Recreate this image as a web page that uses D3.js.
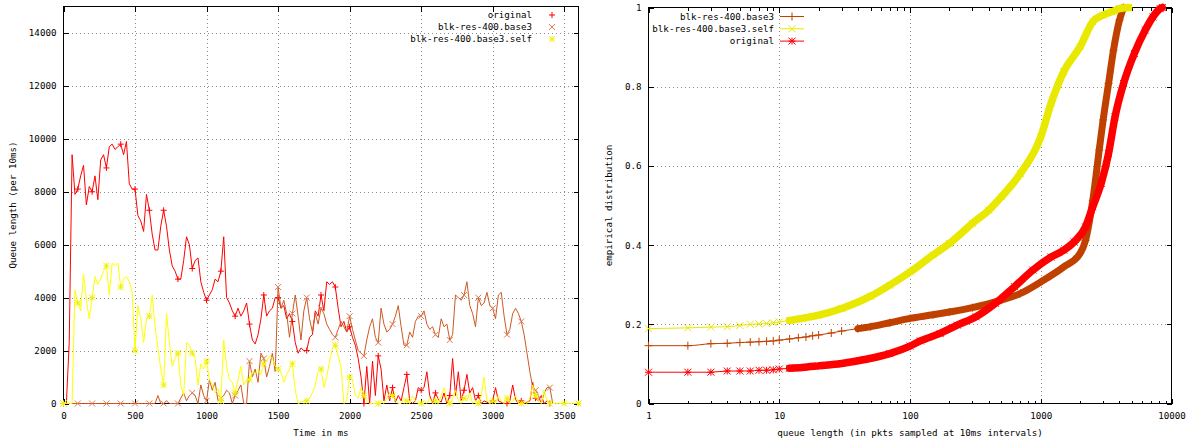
<!DOCTYPE html>
<html lang="en">
<head>
  <meta charset="UTF-8">
  <title>Queue length</title>
  <style>
    html, body {
      margin: 0;
      background-color: #ffffff;
    }
    svg {
      display: block;
    }
    text {
      font-family: 'DejaVu Sans Mono', monospace;
      font-size: 9.2px;
      fill: #000000;
    }
    .grid line {
      stroke: #8c8c8c;
      stroke-dasharray: 1, 3;
      shape-rendering: crispEdges;
    }
    .axis line {
      stroke: #000000;
      shape-rendering: crispEdges;
    }
  </style>
</head>
<body>
  <svg id="chart" width="1188" height="444"></svg>

  <script src="https://cdnjs.cloudflare.com/ajax/libs/d3/7.8.5/d3.min.js"></script>
  <script>
    // queue length per 10ms window, one sample every 20ms starting at 0
    const timeStep = 20;
    const originalQueue = [
      0, 0, 2300, 9400, 7900, 8100, 8600, 9000, 7500, 8200,
      8000, 8600, 7700, 9200, 9400, 8900, 9700, 9800, 9600, 9700,
      9800, 9400, 9900, 8300, 8100, 8100, 7100, 6900, 6500, 7900,
      7300, 6400, 5800, 5800, 6700, 7300, 6700, 5800, 5200, 5000,
      4700, 4700, 5400, 6300, 6000, 5100, 5400, 5500, 4600, 4200,
      3900, 4100, 4300, 4700, 4600, 5000, 6300, 4000, 3800, 3500,
      3300, 3600, 3300, 3500, 3800, 3000, 2400, 2250, 2600, 3200,
      4100, 3300, 3500, 3600, 4000, 4000, 3600, 3700, 3200, 3400,
      3100, 2300, 1900, 2100, 2000, 2000, 2500, 2600, 3500, 3300,
      4100, 3500, 4600, 4500, 4600, 4400, 3600, 2900, 3100, 2700,
      2900, 2500, 2200, 1700, 1000, 0, 1400, 0, 1600, 300,
      1800, 1300, 100, 700, 100, 600, 50, 300, 100, 600,
      1100, 100, 0, 100, 600, 500, 600, 1200, 300, 0,
      400, 150, 50, 400, 0, 300, 1700, 300, 1200, 100,
      500, 1100, 400, 600, 100, 300, 0, 100, 50, 0,
      100, 600, 100, 50, 0, 0, 100, 700, 150, 0,
      100, 0, 50, 100, 800, 200, 100, 300, 0, 100,
      0, 0
    ];
    const base3Queue = [
      0, 0, 0, 0, 0, 0, 0, 0, 0, 0,
      0, 0, 0, 0, 0, 0, 0, 0, 0, 0,
      0, 0, 0, 0, 0, 0, 0, 0, 0, 0,
      0, 0, 0, 300, 0, 0, 100, 0, 0, 0,
      0, 200, 400, 100, 300, 400, 300, 0, 700, 300,
      100, 900, 500, 800, 100, 200, 300, 500, 400, 0,
      300, 500, 700, 0, 0, 1600, 1000, 1300, 800, 1900,
      1700, 1000, 1400, 1900, 1200, 4400, 3600, 3900, 3400, 2500,
      3400, 4100, 3300, 2400, 3500, 4000, 3200, 2700, 3400, 3000,
      3600, 3400, 3000, 2800, 2600, 2500, 2800, 3100, 2900, 2700,
      3300, 2800, 2400, 2000, 1900, 1800, 2400, 2900, 3200, 2500,
      2300, 3600, 3000, 2700, 2800, 3000, 3300, 3700, 2900, 2200,
      2200, 2700, 2500, 3100, 3300, 3300, 3500, 3000, 2800, 2900,
      2600, 2500, 3200, 2900, 3000, 2400, 2600, 4100, 4000, 3900,
      4100, 4600, 3700, 3400, 2900, 4000, 3700, 3800, 4200, 3700,
      3600, 3200, 4100, 4200, 3300, 2600, 2800, 3400, 3600, 3400,
      3100, 2600, 1900, 1200, 600, 500, 300, 0, 400, 600,
      600, 0
    ];
    const selfQueue = [
      0, 0, 0, 0, 4300, 3800, 3500, 4900, 3900, 3200,
      4000, 4800, 4500, 4700, 5000, 5200, 4100, 5300, 5200, 5300,
      4400, 4700, 4800, 4600, 4200, 2000, 3700, 3200, 2300, 3200,
      3300, 4100, 2900, 2100, 1300, 700, 3400, 2300, 1400, 1700,
      1900, 700, 300, 2300, 2200, 1900, 1700, 700, 1500, 1300,
      1600, 900, 700, 400, 550, 100, 2400, 1400, 900, 800,
      400, 900, 1400, 700, 900, 900, 1200, 1100, 1300, 1100,
      1500, 1600, 1800, 1700, 1400, 1300, 1200, 800, 1100, 1300,
      1500, 500, 0, 50, 100, 100, 200, 400, 700, 1200,
      1300, 600, 1000, 1600, 2100, 2200, 1800, 1400, 0, 100,
      1000, 900, 300, 200, 600, 300, 100, 0, 0, 0,
      0, 100, 0, 200, 400, 300, 100, 0, 0, 200,
      100, 0, 300, 100, 0, 0, 100, 0, 200, 0,
      100, 0, 300, 600, 100, 0, 200, 500, 100, 0,
      200, 100, 400, 0, 100, 0, 300, 1000, 100, 0,
      100, 0, 300, 100, 0, 200, 0, 100, 300, 0,
      0, 100, 0, 200, 700, 300, 100, 0, 500, 100,
      0, 0, 0, 0, 0, 0, 0, 0, 0, 0,
      0
    ];
    const timeTicks = [0, 500, 1000, 1500, 2000, 2500, 3000, 3500];
    const queueTicks = [0, 2000, 4000, 6000, 8000, 10000, 12000, 14000];

    // empirical distribution of the queue length
    const base3CdfLength = [1, 2, 3, 4, 5, 6, 7, 8, 9, 10, 12, 14, 16, 18, 20, 25, 30, 40, 50, 70, 100, 150, 200, 300, 500, 700, 1000, 1500, 2000, 2200, 2500, 2800, 3000, 3300, 3600, 4000, 4300];
    const base3CdfFraction = [0.146, 0.146, 0.151, 0.152, 0.154, 0.155, 0.156, 0.157, 0.158, 0.16, 0.163, 0.166, 0.168, 0.171, 0.173, 0.178, 0.183, 0.189, 0.194, 0.204, 0.215, 0.224, 0.231, 0.242, 0.261, 0.278, 0.307, 0.345, 0.379, 0.412, 0.513, 0.64, 0.716, 0.808, 0.892, 0.968, 1.0];
    const selfCdfLength = [1, 2, 3, 4, 5, 6, 7, 8, 9, 10, 12, 15, 20, 30, 50, 70, 100, 150, 200, 300, 400, 500, 700, 1000, 1200, 1500, 2000, 2500, 3000, 3500, 4000, 4700];
    const selfCdfFraction = [0.189, 0.191, 0.193, 0.194, 0.197, 0.2, 0.201, 0.202, 0.204, 0.206, 0.21, 0.215, 0.223, 0.24, 0.271, 0.299, 0.332, 0.375, 0.404, 0.455, 0.488, 0.522, 0.581, 0.673, 0.758, 0.838, 0.901, 0.964, 0.981, 0.989, 0.997, 1.0];
    const originalCdfLength = [1, 2, 3, 4, 5, 6, 7, 8, 9, 10, 12, 15, 20, 30, 45, 70, 100, 120, 170, 230, 320, 450, 630, 870, 1200, 1500, 1800, 2200, 2500, 2900, 3300, 3700, 4300, 5200, 6300, 7200, 8200, 8500];
    const originalCdfFraction = [0.079, 0.079, 0.079, 0.082, 0.082, 0.082, 0.084, 0.084, 0.085, 0.087, 0.089, 0.091, 0.095, 0.101, 0.111, 0.126, 0.145, 0.158, 0.177, 0.198, 0.219, 0.253, 0.295, 0.337, 0.37, 0.387, 0.408, 0.446, 0.497, 0.556, 0.631, 0.724, 0.808, 0.884, 0.943, 0.976, 0.997, 1.0];
    const lengthTicks = [1, 10, 100, 1000, 10000];
    const fractionTicks = [0, 0.2, 0.4, 0.6, 0.8, 1];

    const svg = d3.select('#chart');
    const tickLength = 5;
    const minorTickLength = 3;

    function plusPath(x, y, r) {
      return `M${x - r},${y}H${x + r}M${x},${y - r}V${y + r}`;
    }
    function crossPath(x, y, r) {
      return `M${x - r},${y - r}L${x + r},${y + r}M${x - r},${y + r}L${x + r},${y - r}`;
    }
    function starPath(x, y, r) {
      return plusPath(x, y, r) + crossPath(x, y, r);
    }

    function drawFrame(g, box, x, y, xTicks, yTicks, xFormat, yFormat) {
      const w = box.right - box.left;
      const h = box.bottom - box.top;

      // dotted grid, skipping lines that sit on the border
      g.append('g').attr('class', 'grid')
        .attr('transform', `translate(0,${box.bottom})`)
        .call(d3.axisBottom(x).tickValues(xTicks.filter(v => x(v) > box.left + 1 && x(v) < box.right - 1)).tickSize(-h).tickFormat(''))
        .call(a => a.select('.domain').remove());
      g.append('g').attr('class', 'grid')
        .attr('transform', `translate(${box.left},0)`)
        .call(d3.axisLeft(y).tickValues(yTicks.filter(v => y(v) < box.bottom - 1 && y(v) > box.top + 1)).tickSize(-w).tickFormat(''))
        .call(a => a.select('.domain').remove());

      // ticks on all four sides, pointing inwards
      g.append('g').attr('class', 'axis')
        .attr('transform', `translate(0,${box.bottom})`)
        .call(d3.axisBottom(x).tickValues(xTicks).tickSize(-tickLength).tickPadding(9).tickFormat(xFormat))
        .call(a => a.select('.domain').remove());
      g.append('g').attr('class', 'axis')
        .attr('transform', `translate(0,${box.top})`)
        .call(d3.axisTop(x).tickValues(xTicks).tickSize(-tickLength).tickFormat(''))
        .call(a => a.select('.domain').remove());
      g.append('g').attr('class', 'axis')
        .attr('transform', `translate(${box.left},0)`)
        .call(d3.axisLeft(y).tickValues(yTicks).tickSize(-tickLength).tickPadding(7).tickFormat(yFormat))
        .call(a => a.select('.domain').remove());
      g.append('g').attr('class', 'axis')
        .attr('transform', `translate(${box.right},0)`)
        .call(d3.axisRight(y).tickValues(yTicks).tickSize(-tickLength).tickFormat(''))
        .call(a => a.select('.domain').remove());

      g.append('rect')
        .attr('x', box.left).attr('y', box.top)
        .attr('width', w).attr('height', h)
        .attr('fill', 'none')
        .attr('stroke', '#000000')
        .attr('stroke-width', 1)
        .attr('shape-rendering', 'crispEdges');
    }

    /**
     * Left: queue length over time
     */
    const qBox = { left: 63.5, right: 578.5, top: 6.5, bottom: 403.5 };
    const qX = d3.scaleLinear().domain([0, 3600]).range([qBox.left, qBox.right]);
    const qY = d3.scaleLinear().domain([0, 15000]).range([qBox.bottom, qBox.top]);
    const qChart = svg.append('g');

    drawFrame(qChart, qBox, qX, qY, timeTicks, queueTicks, d3.format('d'), d3.format('d'));

    const queueSeries = [
      { name: 'original', values: originalQueue, line: '#ff0000', mark: '#ff0000', shape: plusPath },
      { name: 'blk-res-400.base3', values: base3Queue, line: '#cc5a24', mark: '#e07850', shape: crossPath },
      { name: 'blk-res-400.base3.self', values: selfQueue, line: '#ffff00', mark: '#f0f000', shape: starPath }
    ];

    const queueLine = d3.line()
      .x((d, i) => qX(i * timeStep))
      .y(d => qY(d));

    queueSeries.forEach((s, k) => {
      qChart.append('path')
        .attr('d', queueLine(s.values))
        .attr('fill', 'none')
        .attr('stroke', s.line)
        .attr('stroke-width', 1);

      // a point every 100ms
      const marks = s.values
        .map((v, i) => ({ t: i * timeStep, v: v }))
        .filter(d => d.t % 100 === 0);
      qChart.append('path')
        .attr('d', marks.map(d => s.shape(qX(d.t), qY(d.v), 3)).join(''))
        .attr('fill', 'none')
        .attr('stroke', s.mark)
        .attr('stroke-width', 1);

      // key
      const ky = 15 + k * 12;
      qChart.append('text')
        .attr('x', 532).attr('y', ky).attr('dy', '0.35em')
        .attr('text-anchor', 'end')
        .text(s.name);
      qChart.append('path')
        .attr('d', s.shape(552, ky, 3))
        .attr('fill', 'none')
        .attr('stroke', s.mark)
        .attr('stroke-width', 1);
    });

    qChart.append('text')
      .attr('x', (qBox.left + qBox.right) / 2).attr('y', 433).attr('dy', '0.35em')
      .attr('text-anchor', 'middle')
      .text('Time in ms');
    qChart.append('text')
      .attr('transform', `translate(13,${(qBox.top + qBox.bottom) / 2}) rotate(-90)`)
      .attr('dy', '0.35em')
      .attr('text-anchor', 'middle')
      .text('Queue length (per 10ms)');

    /**
     * Right: empirical distribution
     */
    const cBox = { left: 648.5, right: 1171.5, top: 7.5, bottom: 403.5 };
    const cX = d3.scaleLog().domain([1, 10000]).range([cBox.left, cBox.right]);
    const cY = d3.scaleLinear().domain([0, 1]).range([cBox.bottom, cBox.top]);
    const cChart = svg.append('g');

    drawFrame(cChart, cBox, cX, cY, lengthTicks, fractionTicks, d3.format('d'), d3.format('~g'));

    // minor ticks between decades, bottom and top
    const minorTicks = cX.ticks().filter(v => lengthTicks.indexOf(v) < 0);
    cChart.append('g').attr('class', 'axis')
      .attr('transform', `translate(0,${cBox.bottom})`)
      .call(d3.axisBottom(cX).tickValues(minorTicks).tickSize(-minorTickLength).tickFormat(''))
      .call(a => a.select('.domain').remove());
    cChart.append('g').attr('class', 'axis')
      .attr('transform', `translate(0,${cBox.top})`)
      .call(d3.axisTop(cX).tickValues(minorTicks).tickSize(-minorTickLength).tickFormat(''))
      .call(a => a.select('.domain').remove());

    const cdfSeries = [
      { name: 'blk-res-400.base3', len: base3CdfLength, frac: base3CdfFraction, color: '#c04000', shape: plusPath, size: 4, bandFrom: 40, band: 7 },
      { name: 'blk-res-400.base3.self', len: selfCdfLength, frac: selfCdfFraction, color: '#e8e800', shape: crossPath, size: 3.5, bandFrom: 12, band: 7.5 },
      { name: 'original', len: originalCdfLength, frac: originalCdfFraction, color: '#ff0000', shape: starPath, size: 3.5, bandFrom: 12, band: 7.5 }
    ];

    const cdfLine = d3.line()
      .curve(d3.curveMonotoneX)
      .x(d => cX(d[0]))
      .y(d => cY(d[1]));

    cdfSeries.forEach((s, k) => {
      const pts = s.len.map((v, i) => [v, s.frac[i]]);

      cChart.append('path')
        .attr('d', cdfLine(pts))
        .attr('fill', 'none')
        .attr('stroke', s.color)
        .attr('stroke-width', 1);

      // the points are so dense further right that they merge into a band
      cChart.append('path')
        .attr('d', cdfLine(pts.filter(d => d[0] >= s.bandFrom)))
        .attr('fill', 'none')
        .attr('stroke', s.color)
        .attr('stroke-width', s.band)
        .attr('stroke-linejoin', 'round')
        .attr('stroke-linecap', 'round');

      cChart.append('path')
        .attr('d', pts.map(d => s.shape(cX(d[0]), cY(d[1]), s.size)).join(''))
        .attr('fill', 'none')
        .attr('stroke', s.color)
        .attr('stroke-width', 1);

      // key
      const ky = 16.5 + k * 12.3;
      cChart.append('text')
        .attr('x', 774).attr('y', ky).attr('dy', '0.35em')
        .attr('text-anchor', 'end')
        .text(s.name);
      cChart.append('line')
        .attr('x1', 780).attr('x2', 804)
        .attr('y1', ky).attr('y2', ky)
        .attr('stroke', s.color)
        .attr('stroke-width', 1);
      cChart.append('path')
        .attr('d', s.shape(792, ky, s.size))
        .attr('fill', 'none')
        .attr('stroke', s.color)
        .attr('stroke-width', 1);
    });

    cChart.append('text')
      .attr('x', (cBox.left + cBox.right) / 2).attr('y', 433).attr('dy', '0.35em')
      .attr('text-anchor', 'middle')
      .text('queue length (in pkts sampled at 10ms intervals)');
    cChart.append('text')
      .attr('transform', `translate(609,${(cBox.top + cBox.bottom) / 2}) rotate(-90)`)
      .attr('dy', '0.35em')
      .attr('text-anchor', 'middle')
      .text('empirical distribution');
  </script>
</body>
</html>
